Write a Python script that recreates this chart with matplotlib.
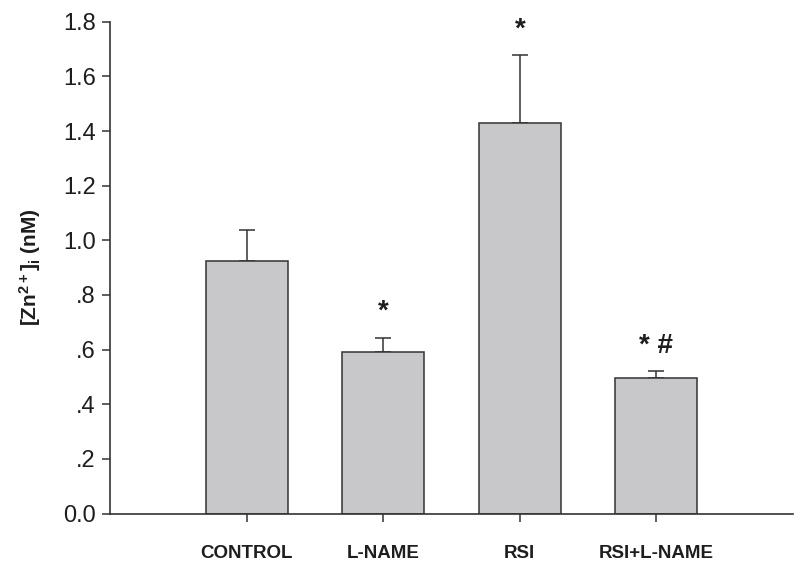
import numpy as np
import matplotlib
matplotlib.use("Agg")
import matplotlib.pyplot as plt

plt.rcParams.update({
    "font.family": ["Liberation Sans", "DejaVu Sans"],
    "mathtext.fontset": "custom",
    "mathtext.rm": "Liberation Sans:bold",
    "mathtext.bf": "Liberation Sans:bold",
    "mathtext.it": "Liberation Sans:bold",
    "mathtext.default": "bf",
})

groups = ["CONTROL", "L-NAME", "RSI", "RSI+L-NAME"]
means = [0.926, 0.590, 1.428, 0.495]
sem = [0.112, 0.054, 0.250, 0.025]
marks = ["", "*", "*", "* #"]
yticks = [0.0, 0.2, 0.4, 0.6, 0.8, 1.0, 1.2, 1.4, 1.6, 1.8]
ytick_labels = ["0.0", ".2", ".4", ".6", ".8", "1.0", "1.2", "1.4", "1.6", "1.8"]

_INK = "#333333"
_FILL = "#c8c8ca"
_TEXT = "#1e1e1e"

fig = plt.figure(figsize=(8.0, 5.65), dpi=100, facecolor="white")
ax = fig.add_axes([0.138, 0.091, 0.853, 0.8706])

x = np.arange(len(groups))
ax.bar(x, means, width=0.6, color=_FILL, edgecolor=_INK, linewidth=1.1, zorder=2)
ax.errorbar(x, means, yerr=[np.zeros(len(sem)), sem], fmt="none",
            ecolor=_INK, elinewidth=1.1, capsize=5.8, capthick=1.1, zorder=1)

for xi, m, e, txt in zip(x, means, sem, marks):
    if txt:
        ax.annotate(txt, xy=(xi, m + e), xytext=(0, 9), textcoords="offset points",
                    ha="center", va="bottom", fontsize=20, fontweight="bold",
                    color=_TEXT)

ax.set_xlim(-1, 4)
ax.set_ylim(0, 1.8)
ax.set_xticks(x)
ax.set_xticklabels(groups, fontsize=13.5, fontweight="bold", color=_TEXT)
ax.set_yticks(yticks)
ax.set_yticklabels(ytick_labels, fontsize=17, color=_TEXT)
ax.tick_params(axis="x", length=5.5, width=1.1, color=_INK, pad=17)
ax.tick_params(axis="y", length=5.5, width=1.1, color=_INK, pad=5)
ax.set_ylabel(r"[Zn$^{2+}$]$_i$ (nM)", fontsize=15, fontweight="bold",
              color=_TEXT, labelpad=14)

for side in ("top", "right"):
    ax.spines[side].set_visible(False)
for side in ("left", "bottom"):
    ax.spines[side].set_color(_INK)
    ax.spines[side].set_linewidth(1.2)

fig.savefig("out.png", dpi=100)
